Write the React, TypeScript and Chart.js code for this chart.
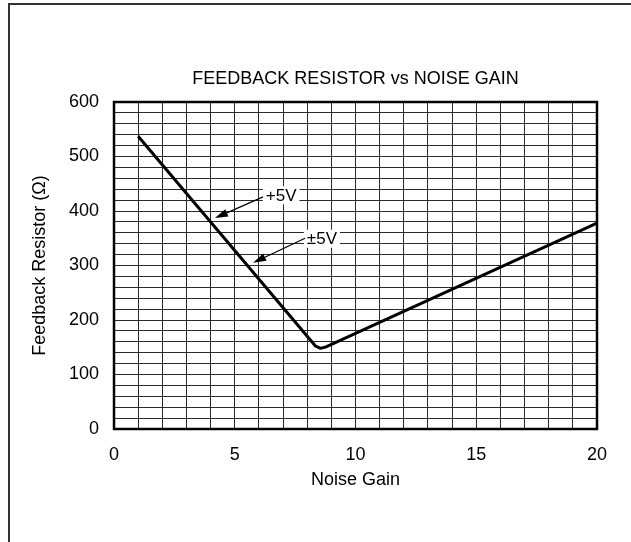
import React, { useEffect, useRef } from 'react';
import { Chart, registerables } from 'chart.js';

Chart.register(...registerables);

// ---- data ----
const noiseGain = [1, 8.35, 8.55, 8.8, 20];
const feedbackResistor = [537, 152, 148, 151, 378];
const xTickLabels = [0, 5, 10, 15, 20];
const yTickLabels = [0, 100, 200, 300, 400, 500, 600];

// annotations (data coordinates)
const annotationText = ['+5V', '\u00B15V'];
const annotationTextX = [6.92, 8.61];
const annotationTextY = [429, 349];
const arrowFromX = [6.17, 7.91];
const arrowFromY = [426, 350];
const arrowToX = [4.18, 5.76];
const arrowToY = [387, 305];

const FONT = '"Liberation Sans", Arial, Helvetica, sans-serif';

const framePlugin = {
  id: 'frame',
  beforeDraw(chart: any) {
    const ctx = chart.ctx;
    ctx.save();
    ctx.fillStyle = '#fff';
    ctx.fillRect(0, 0, chart.width, chart.height);
    ctx.fillStyle = '#333';
    ctx.fillRect(8, 3, chart.width - 8, 2);
    ctx.fillRect(8, 3, 2, chart.height - 3);
    ctx.restore();
  },
  afterDraw(chart: any) {
    const ctx = chart.ctx;
    const a = chart.chartArea;
    ctx.save();
    ctx.strokeStyle = '#000';
    ctx.lineWidth = 2.5;
    ctx.strokeRect(a.left, a.top, a.right - a.left, a.bottom - a.top);

    const xs = chart.scales.x;
    const ys = chart.scales.y;
    ctx.font = `17px ${FONT}`;
    ctx.textAlign = 'center';
    ctx.textBaseline = 'middle';
    for (let i = 0; i < annotationText.length; i++) {
      const tx = xs.getPixelForValue(annotationTextX[i]);
      const ty = ys.getPixelForValue(annotationTextY[i]);
      const w = ctx.measureText(annotationText[i]).width;
      ctx.fillStyle = '#fff';
      ctx.fillRect(tx - w / 2 - 3, ty - 9, w + 6, 18);
      ctx.fillStyle = '#000';
      ctx.fillText(annotationText[i], tx, ty + 1);

      const x1 = xs.getPixelForValue(arrowFromX[i]);
      const y1 = ys.getPixelForValue(arrowFromY[i]);
      const x2 = xs.getPixelForValue(arrowToX[i]);
      const y2 = ys.getPixelForValue(arrowToY[i]);
      const ang = Math.atan2(y2 - y1, x2 - x1);
      const headLen = 13;
      const headW = 4;
      const bx = x2 - headLen * Math.cos(ang);
      const by = y2 - headLen * Math.sin(ang);
      ctx.strokeStyle = '#000';
      ctx.lineWidth = 1.2;
      ctx.beginPath();
      ctx.moveTo(x1, y1);
      ctx.lineTo(bx, by);
      ctx.stroke();
      ctx.beginPath();
      ctx.moveTo(x2, y2);
      ctx.lineTo(bx + headW * Math.sin(ang), by - headW * Math.cos(ang));
      ctx.lineTo(bx - headW * Math.sin(ang), by + headW * Math.cos(ang));
      ctx.closePath();
      ctx.fillStyle = '#000';
      ctx.fill();
    }
    ctx.restore();
  },
};

export default function App() {
  const ref = useRef<HTMLCanvasElement>(null);

  useEffect(() => {
    if (!ref.current) return;
    const chart = new Chart(ref.current, {
      type: 'line',
      data: {
        datasets: [
          {
            data: noiseGain.map((x, i) => ({ x, y: feedbackResistor[i] })),
            borderColor: '#000',
            borderWidth: 3,
            pointRadius: 0,
            tension: 0,
            borderJoinStyle: 'round',
            fill: false,
          },
        ],
      },
      options: {
        responsive: false,
        animation: false,
        events: [],
        layout: { padding: { left: 20, right: 34, top: 0, bottom: 51 } },
        plugins: {
          legend: { display: false },
          tooltip: { enabled: false },
          title: {
            display: true,
            text: 'FEEDBACK RESISTOR vs NOISE GAIN',
            color: '#000',
            fullSize: false,
            font: { family: FONT, size: 18, weight: 'normal' },
            padding: { top: 68, bottom: 12.4 },
          },
        },
        scales: {
          x: {
            type: 'linear',
            min: 0,
            max: 20,
            afterFit: (s: any) => {
              s.height = 62;
            },
            ticks: {
              stepSize: 1,
              autoSkip: false,
              maxRotation: 0,
              padding: 15,
              color: '#000',
              font: { family: FONT, size: 18 },
              callback: (v: any) => (xTickLabels.includes(Number(v)) ? String(v) : ''),
            },
            grid: { color: '#2a2a2a', lineWidth: 1, drawTicks: false },
            border: { display: false },
            title: {
              display: true,
              text: 'Noise Gain',
              color: '#000',
              font: { family: FONT, size: 18 },
              padding: { top: 0, bottom: 0 },
            },
          },
          y: {
            type: 'linear',
            min: 0,
            max: 600,
            afterFit: (s: any) => {
              s.width = 94;
            },
            ticks: {
              stepSize: 20,
              autoSkip: false,
              padding: 15,
              color: '#000',
              font: { family: FONT, size: 18 },
              callback: (v: any) => (yTickLabels.includes(Number(v)) ? String(v) : ''),
            },
            grid: { color: '#2a2a2a', lineWidth: 1, drawTicks: false },
            border: { display: false },
            title: {
              display: true,
              text: 'Feedback Resistor (\u03A9)',
              color: '#000',
              font: { family: FONT, size: 18 },
              padding: { top: 9.5, bottom: 0 },
            },
          },
        },
      },
      plugins: [framePlugin],
    } as any);
    return () => chart.destroy();
  }, []);

  return (
    <div style={{ position: 'fixed', left: 0, top: 0, width: 631, height: 542 }}>
      <canvas ref={ref} width={631} height={542} style={{ display: 'block' }} />
    </div>
  );
}
